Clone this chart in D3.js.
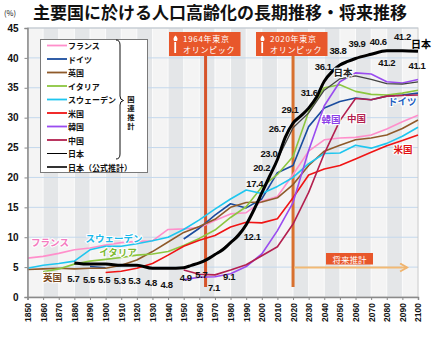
<!DOCTYPE html>
<meta charset="utf-8">
<style>
  body { margin: 0; background: #fff; }
  svg text { font-family: "Liberation Sans", "DejaVu Sans", sans-serif; }
  svg .jp { font-family: "Noto Sans CJK JP", sans-serif; }
</style>
<script src="https://d3js.org/d3.v7.min.js"></script>
<svg id="chart" width="433" height="340"></svg>
<script>

// decade points (UN estimates / projections)
var decades = [1850,1860,1870,1880,1890,1900,1910,1920,1930,1940,1950,1960,1970,1980,1990,2000,2010,2020,2030,2040,2050,2060,2070,2080,2090,2100];

var france  = [6.5,6.8,7.3,7.9,8.2,8.7,9.1,9.3,9.4,11.3,11.4,11.6,12.8,13.9,14.1,16.0,16.8,20.5,24.4,26.3,26.6,26.7,27.1,28.1,29.3,30.4];
var germany = [null,null,null,null,5.1,4.9,null,null,null,null,9.7,11.5,13.7,15.6,14.9,16.4,20.8,22.0,28.5,31.6,32.7,33.3,33.0,33.6,33.8,34.1];
var uk      = [4.6,4.7,4.8,4.7,4.8,4.8,5.3,6.2,7.6,9.2,10.8,11.8,13.0,15.0,15.8,15.9,16.6,18.8,22.0,24.4,25.4,26.3,26.6,27.1,28.2,29.6];
var italy   = [null,4.2,4.7,5.5,6.0,6.3,6.6,7.0,7.2,7.6,8.6,9.8,11.2,13.3,15.1,18.4,20.5,23.5,31.0,35.0,35.5,34.4,33.9,33.8,34.1,34.6];
var sweden  = [4.8,5.3,5.6,6.0,7.9,8.5,8.5,8.9,9.4,10.0,11.3,12.9,14.7,16.4,17.9,17.3,18.5,20.0,22.3,24.0,24.1,25.4,24.9,25.7,26.9,28.4];
var usa     = [null,null,null,null,null,4.1,4.3,4.8,5.6,7.0,8.5,9.5,10.3,11.7,12.5,12.4,13.1,16.6,20.4,21.4,22.0,23.1,24.2,25.3,26.2,27.1];
var korea   = [null,null,null,null,null,null,null,null,null,null,2.9,3.3,3.4,3.9,5.1,7.2,11.1,15.8,24.5,32.0,36.0,37.5,37.3,36.0,35.8,36.4];
var china   = [null,null,null,null,null,null,null,null,null,null,4.5,3.8,3.7,4.5,5.4,6.9,8.4,12.2,17.5,24.0,29.5,33.2,33.0,33.6,33.7,33.8];
var japanUN = [null,null,null,null,null,null,null,null,null,null,4.9,5.7,7.1,9.1,12.1,17.4,23.0,28.3,30.8,34.6,36.5,37.0,36.4,35.7,35.6,36.0];

// Japan, official estimates / projection
var jpYears    = [1880,1890,1900,1910,1920,1930,1940,1950,1955,1960,1965,1970,1975,1980,1985,1990,1995,2000,2005,2010,2015,2020,2025,2030,2035,2040,2045,2050,2055,2060,2070,2080,2090,2100];
var jpOfficial = [5.7,5.5,5.5,5.3,5.3,4.8,4.8,4.9,5.3,5.7,6.3,7.1,7.9,9.1,10.3,12.1,14.6,17.4,20.2,23.0,26.7,29.1,30.3,31.6,33.4,36.1,37.7,38.8,39.4,39.9,40.6,41.2,41.2,41.1];
var jpLabelYears = [1880,1890,1900,1910,1920,1930,1940,1950,1960,1970,1980,1990,2000,2005,2010,2015,2020,2030,2040,2050,2060,2070,2080,2090,2100];

var seriesNames = ["フランス","ドイツ","英国","イタリア","スウェーデン","米国","韓国","中国","日本"];
var seriesValues = [france, germany, uk, italy, sweden, usa, korea, china, japanUN];
var officialName = "日本（公式推計）";

var yTicks = [0,5,10,15,20,25,30,35,40,45];
var title = "主要国に於ける人口高齢化の長期推移・将来推移";
var olympics = [{year: 1964, text: ["1964年東京", "オリンピック"]}, {year: 2020, text: ["2020年東京", "オリンピック"]}];
var projectionStart = 2020;

// styling
var colors = ["#ff8fcb","#1a4c9e","#8f5a2a","#8cc63f","#1ec6ef","#f01414","#9a4cf0","#b3204f","#444"];
var labelColors = ["#f47cc0","#1f5fbf","#7a4a20","#7cb82f","#1ab8ea","#e01010","#8a3ee8","#b3204f","#222"];
// label anchors [year, value] for the country names
var nameAnchors = [[1864.4,9.2],[2090,32.8],[1866,3.35],[1907.9,7.5],[1905.4,9.9],[2090.4,24.8],[2044.3,29.7],[2060.6,29.9],[2052,37.7]];
// offsets of Japan value labels from their points
var jpLabelOffsets = [[-1,16],[-1,15],[-1.5,15],[-1.5,15],[-2.5,15],[-1.5,14],[-1.5,16],[2,10],[2,12],[-1,33],[-1.5,34],
  [6,12],[-7,-9.5],[-8,-8.7],[-8.5,-6.5],[-8,-8.5],[-3,-13.5],[0.5,-15.5],[-1,-14.7],[-2,-15],[1.5,-15],[7,-12.8],[0,12],[0,-14],[-1,14]];

var svg = d3.select("#chart");
var x = d3.scaleLinear().domain([1850, 2100]).range([27.5, 418]);
var y = d3.scaleLinear().domain([0, 45]).range([297, 28]);

// plot background with alternating decade bands
var plot = svg.append("g");
plot.append("rect").attr("x", x(1850)).attr("y", y(45))
  .attr("width", x(2100) - x(1850)).attr("height", y(0) - y(45)).attr("fill", "#f4f4f4");
plot.selectAll("rect.band").data(decades.slice(0, -1)).enter().append("rect")
  .attr("class", "band")
  .attr("x", function(d) { return x(d); })
  .attr("y", y(45))
  .attr("width", x(1860) - x(1850))
  .attr("height", y(0) - y(45))
  .attr("fill", function(d, i) { return i % 2 ? "#e4e6e8" : "none"; });
plot.selectAll("line.vg").data(decades).enter().append("line")
  .attr("x1", function(d) { return x(d); }).attr("x2", function(d) { return x(d); })
  .attr("y1", y(45)).attr("y2", y(0)).attr("stroke", "#fff").attr("stroke-width", 0.8);
plot.selectAll("line.hg").data(yTicks.slice(1)).enter().append("line")
  .attr("x1", x(1850)).attr("x2", x(2100))
  .attr("y1", function(d) { return y(d); }).attr("y2", function(d) { return y(d); })
  .attr("stroke", "#c4d8ec").attr("stroke-width", 1);
plot.append("rect").attr("x", x(1850)).attr("y", y(45))
  .attr("width", x(2100) - x(1850)).attr("height", y(0) - y(45))
  .attr("fill", "none").attr("stroke", "#c8c8c8");

// olympic markers (vertical bars)
svg.selectAll("line.oly").data(olympics).enter().append("line")
  .attr("x1", function(d) { return x(d.year); }).attr("x2", function(d) { return x(d.year); })
  .attr("y1", 56).attr("y2", 287)
  .attr("stroke", function(d, i) { return i ? "#d8702e" : "#d6532a"; })
  .attr("stroke-width", 3);

// future projection arrow
svg.append("defs").append("marker").attr("id", "arr")
  .attr("viewBox", "0 0 10 10").attr("refX", 8).attr("refY", 5)
  .attr("markerWidth", 5).attr("markerHeight", 5).attr("orient", "auto")
  .append("path").attr("d", "M1,1 L8,5 L1,9").attr("fill", "none")
  .attr("stroke", "#f0b46e").attr("stroke-width", 2);
svg.append("line").attr("x1", x(projectionStart) + 1).attr("x2", x(2093)).attr("y1", 267.5).attr("y2", 267.5)
  .attr("stroke", "#f2b974").attr("stroke-width", 2).attr("marker-end", "url(#arr)");
svg.append("rect").attr("x", 326).attr("y", 253).attr("width", 47).attr("height", 11.5).attr("fill", "#e8572b");
svg.append("text").attr("class", "jp").attr("x", 349.5).attr("y", 258.8)
  .attr("text-anchor", "middle").attr("dominant-baseline", "central")
  .attr("fill", "#fff").attr("font-size", 8.5).text("将来推計");

// series lines
var line = d3.line()
  .defined(function(d) { return d[1] != null; })
  .x(function(d) { return x(d[0]); })
  .y(function(d) { return y(d[1]); });

seriesValues.forEach(function(vals, i) {
  svg.append("path")
    .datum(decades.map(function(yr, j) { return [yr, vals[j]]; }))
    .attr("d", line)
    .attr("fill", "none")
    .attr("stroke", colors[i])
    .attr("stroke-width", i === 8 ? 1.3 : 1.6)
    .attr("stroke-linejoin", "round");
});

var jpLine = d3.line().curve(d3.curveMonotoneX)
  .x(function(d) { return x(d[0]); })
  .y(function(d) { return y(d[1]); });
svg.append("path")
  .datum(jpYears.map(function(yr, j) { return [yr, jpOfficial[j]]; }))
  .attr("d", jpLine).attr("fill", "none").attr("stroke", "#000")
  .attr("stroke-width", 3).attr("stroke-linejoin", "round");

// japan value labels
svg.selectAll("text.jv").data(jpLabelYears).enter().append("text")
  .attr("x", function(d, i) { return x(d) + jpLabelOffsets[i][0]; })
  .attr("y", function(d, i) { return y(jpOfficial[jpYears.indexOf(d)]) + jpLabelOffsets[i][1]; })
  .attr("text-anchor", "middle").attr("dominant-baseline", "central")
  .attr("font-size", 9.5).attr("font-weight", "bold").attr("letter-spacing", -0.4)
  .attr("fill", "#111")
  .text(function(d) { return d3.format(".1f")(jpOfficial[jpYears.indexOf(d)]); });

// country name labels
svg.selectAll("text.cn").data(seriesNames).enter().append("text")
  .attr("class", "jp")
  .attr("x", function(d, i) { return x(nameAnchors[i][0]); })
  .attr("y", function(d, i) { return y(nameAnchors[i][1]); })
  .attr("text-anchor", "middle").attr("dominant-baseline", "central")
  .attr("font-size", 9.5).attr("font-weight", "bold")
  .attr("fill", function(d, i) { return labelColors[i]; })
  .attr("stroke", "#fff").attr("stroke-width", 2).attr("paint-order", "stroke")
  .text(function(d) { return d; });
svg.append("text").attr("class", "jp").attr("x", 421).attr("y", 43.5)
  .attr("text-anchor", "middle").attr("dominant-baseline", "central")
  .attr("font-size", 10).attr("font-weight", "bold").attr("fill", "#000").text("日本");

// olympic boxes
olympics.forEach(function(o, i) {
  var bx = i ? 256 : 169, by = 32;
  var g = svg.append("g");
  g.append("rect").attr("x", bx).attr("y", by).attr("width", 71.5).attr("height", 24).attr("fill", "#e8572b");
  g.append("path").attr("d", "M" + (bx + 5) + "," + (by + 9) + " q-1.5,-3 1.5,-5.5 q3,2.5 1.5,5.5 z").attr("fill", "#fff");
  g.append("rect").attr("x", bx + 5.3).attr("y", by + 10).attr("width", 1.8).attr("height", 11).attr("fill", "#fff");
  var t = g.append("text").attr("class", "jp").attr("font-size", 8).attr("letter-spacing", 0.7).attr("fill", "#fff");
  o.text.forEach(function(s, k) {
    t.append("tspan").attr("x", bx + 14).attr("y", by + 9.8 + k * 11.6).text(s);
  });
});

// legend
var lg = svg.append("g");
lg.append("rect").attr("x", 40.5).attr("y", 39.5).attr("width", 107).attr("height", 133)
  .attr("fill", "#fff").attr("stroke", "#7a7a7a");
var legendNames = seriesNames.concat([officialName]);
var legendColors = colors.slice(0, 8).concat(["#000", "#000"]);
legendNames.forEach(function(n, i) {
  var ly = 45.5 + i * 13.5;
  lg.append("line").attr("x1", 47).attr("x2", 67).attr("y1", ly).attr("y2", ly)
    .attr("stroke", legendColors[i]).attr("stroke-width", i === 8 ? 1 : (i === 9 ? 1.6 : 1.8));
  lg.append("text").attr("class", "jp").attr("x", 68).attr("y", ly)
    .attr("dominant-baseline", "central").attr("font-size", 8).attr("font-weight", "bold")
    .attr("fill", "#111").text(n);
});
lg.append("path")
  .attr("d", "M116,40 q4,0 4,5 L120,96 q0,4 3.5,4.5 q-3.5,0.5 -3.5,4.5 L120,154 q0,5 -4,5")
  .attr("fill", "none").attr("stroke", "#111").attr("stroke-width", 1);
lg.append("text").attr("class", "jp").attr("x", 131).attr("y", 113.5)
  .attr("text-anchor", "middle").attr("writing-mode", "vertical-rl")
  .attr("font-size", 7.4).attr("letter-spacing", 1.4).attr("font-weight", "bold")
  .attr("fill", "#111").text("国連推計");

// axes
var yAxis = svg.append("g").attr("transform", "translate(" + x(1850) + ",0)")
  .call(d3.axisLeft(y).tickValues(yTicks).tickSize(3).tickPadding(6));
var xAxis = svg.append("g").attr("transform", "translate(0," + y(0) + ")")
  .call(d3.axisBottom(x).tickValues(decades).tickFormat(d3.format("d")).tickSize(3));
[xAxis, yAxis].forEach(function(a) {
  a.select(".domain").attr("stroke", "#8a8a8a").attr("stroke-width", 1.5);
  a.selectAll(".tick line").attr("stroke", "#8a8a8a");
});
yAxis.selectAll("text").attr("font-size", 10).attr("font-weight", "bold").attr("fill", "#111")
  .attr("font-family", "Liberation Sans, sans-serif");
xAxis.selectAll("text")
  .attr("font-size", 8.5).attr("font-weight", "bold").attr("fill", "#111")
  .attr("font-family", "Liberation Sans, sans-serif")
  .attr("text-anchor", "end").attr("dy", "0.35em")
  .attr("transform", "translate(0,6) rotate(-90)").attr("x", 0).attr("y", 0);

// title
svg.append("text").attr("class", "jp").attr("x", 33).attr("y", 19)
  .attr("font-size", 17).attr("font-weight", "bold").attr("fill", "#111").text(title);
svg.append("text").attr("class", "jp").attr("x", 4).attr("y", 16)
  .attr("font-size", 7.5).attr("fill", "#111").text("(%)");

</script>
